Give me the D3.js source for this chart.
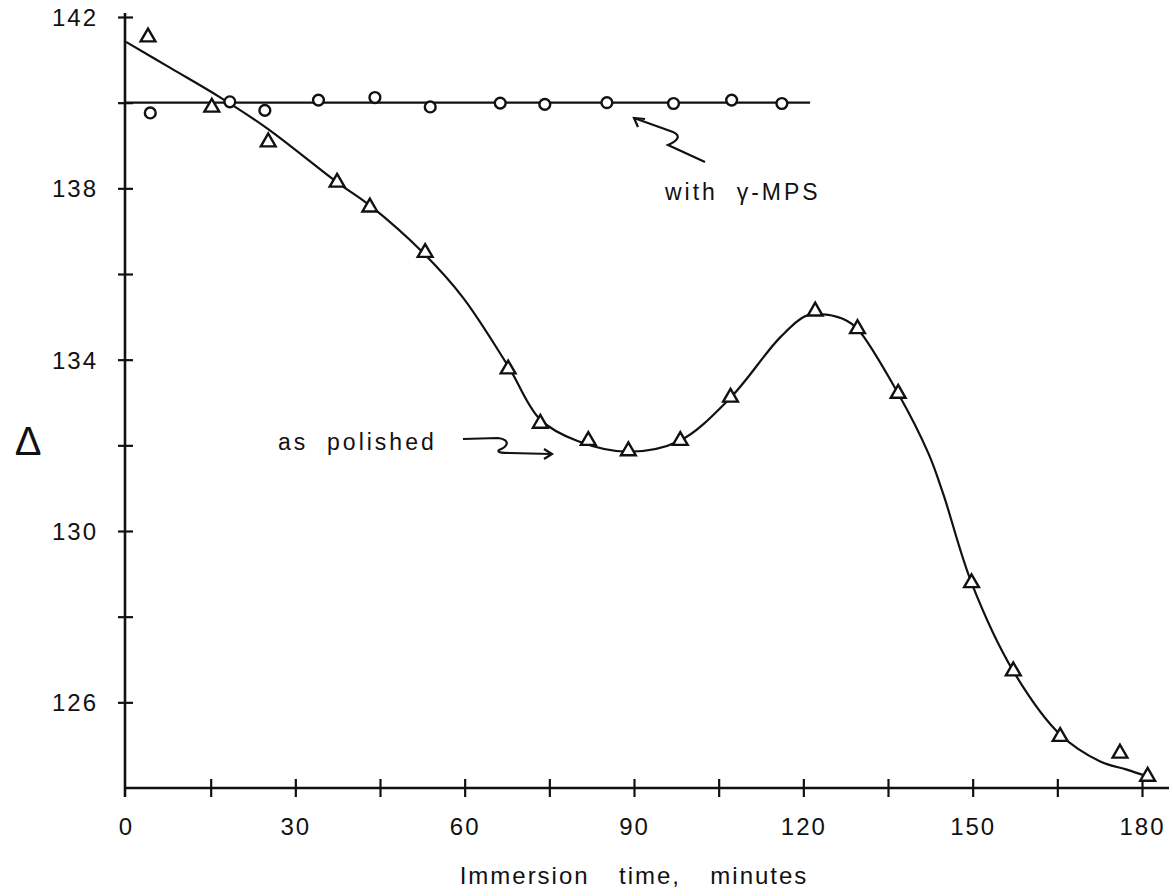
<!DOCTYPE html>
<html>
<head>
<meta charset="utf-8">
<script src="https://cdn.jsdelivr.net/npm/d3@7/dist/d3.min.js"></script>
<style>
  html, body { margin: 0; padding: 0; background: #fff; }
  svg { display: block; }
  text { font-family: "Liberation Sans", Arial, Helvetica, sans-serif; fill: #111; }
</style>
</head>
<body>
<svg id="chart" width="1173" height="896"></svg>
<script>
// ---- data ----
// "as polished" measured points (triangles)
const polishedTime  = [3.9, 15.2, 25.2, 37.4, 43.2, 53.0, 67.7, 73.4, 81.9, 89.0, 98.2, 107.1, 122.1, 129.6, 136.8, 149.8, 157.2, 165.5, 176.1, 181.0];
const polishedDelta = [141.53, 139.89, 139.08, 138.14, 137.56, 136.50, 133.78, 132.51, 132.11, 131.87, 132.11, 133.12, 135.13, 134.72, 133.21, 128.79, 126.73, 125.20, 124.81, 124.27];
// hand-drawn smooth curve through the "as polished" data
const polishedCurveTime  = [0, 8, 16.6, 25, 37.4, 43.2, 52.6, 59.7, 67.7, 73.4, 80, 89, 98, 107, 115.9, 120.6, 124.1, 127.7, 129.6, 136.8, 142.2, 144.8, 149.8, 157.2, 165.5, 172.6, 177.3, 181];
const polishedCurveDelta = [141.42, 140.8, 140.13, 139.4, 138.14, 137.6, 136.5, 135.45, 133.85, 132.6, 132.1, 131.85, 132.1, 133.1, 134.52, 135.03, 135.05, 134.91, 134.72, 133.21, 131.8, 130.86, 128.79, 126.73, 125.25, 124.62, 124.43, 124.27];
// "with γ-MPS" measured points (circles)
const mpsTime  = [4.3, 18.4, 24.6, 34.1, 44.1, 53.9, 66.3, 74.2, 85.2, 97.0, 107.3, 116.2];
const mpsDelta = [139.76, 140.02, 139.82, 140.06, 140.12, 139.90, 139.99, 139.96, 140.0, 139.98, 140.06, 139.98];
const mpsLineTime  = [0, 121.2];
const mpsLineDelta = [140, 140];
// axes
const xTickValues  = [0, 15, 30, 45, 60, 75, 90, 105, 120, 135, 150, 165, 180];
const xTickLabels  = [0, 30, 60, 90, 120, 150, 180];
const yTickValues  = [126, 128, 130, 132, 134, 136, 138, 140, 142];
const yTickLabels  = [126, 130, 134, 138, 142];
const xTitle = "Immersion  time,  minutes";
const yTitle = "Δ";
const labelMPS = "with  γ-MPS";
const labelPolished = "as  polished";

// ---- scales ----
const x = d3.scaleLinear().domain([0, 180]).range([126, 1142]);
const y = d3.scaleLinear().domain([124, 142]).range([788, 17]);

const svg = d3.select("#chart");
const ink = "#111";

// axis lines
svg.append("line").attr("x1", 125).attr("x2", 125).attr("y1", 13).attr("y2", 797)
  .attr("stroke", ink).attr("stroke-width", 2.6);
svg.append("line").attr("x1", 125).attr("x2", 1169).attr("y1", y(124)).attr("y2", y(124))
  .attr("stroke", ink).attr("stroke-width", 2.4);

// x axis ticks
const gx = svg.append("g").attr("transform", `translate(0,${y(124)})`)
  .call(d3.axisBottom(x).tickValues(xTickValues).tickSize(9).tickSizeOuter(0)
    .tickFormat(d => xTickLabels.includes(d) ? String(d) : ""));
gx.select(".domain").remove();
gx.selectAll(".tick line").attr("y1", -9).attr("y2", 9).attr("stroke", ink).attr("stroke-width", 2.2)
  .filter(d => d === 0).remove();
gx.selectAll(".tick text").attr("y", 47).attr("dy", null)
  .style("font-size", "24px").style("letter-spacing", "2px").attr("fill", ink);

// y axis ticks
const gy = svg.append("g").attr("transform", "translate(125,0)")
  .call(d3.axisLeft(y).tickValues(yTickValues).tickSize(7).tickSizeOuter(0)
    .tickFormat(d => yTickLabels.includes(d) ? String(d) : ""));
gy.select(".domain").remove();
gy.selectAll(".tick line").attr("x1", 8).attr("x2", -7).attr("stroke", ink).attr("stroke-width", 2.2);
gy.selectAll(".tick text").attr("x", -27).attr("dy", "0.36em")
  .style("font-size", "24px").style("letter-spacing", "2px").attr("fill", ink);

// titles
svg.append("text").attr("x", x(90)).attr("y", 884).attr("text-anchor", "middle")
  .style("font-size", "24px").style("letter-spacing", "2px").style("word-spacing", "6px")
  .style("white-space", "pre").text(xTitle);
svg.append("text").attr("x", 28).attr("y", 455).attr("text-anchor", "middle")
  .style("font-size", "40px").style("font-weight", "300").text(yTitle);

// lines
const line = d3.line().x(d => x(d[0])).y(d => y(d[1]));
svg.append("path")
  .datum(mpsLineTime.map((t, i) => [t, mpsLineDelta[i]]))
  .attr("d", line).attr("fill", "none").attr("stroke", ink).attr("stroke-width", 2.2);
svg.append("path")
  .datum(polishedCurveTime.map((t, i) => [t, polishedCurveDelta[i]]))
  .attr("d", line.curve(d3.curveCatmullRom.alpha(0.5))).attr("fill", "none")
  .attr("stroke", ink).attr("stroke-width", 2.2);

// markers
svg.append("g").selectAll("circle")
  .data(mpsTime.map((t, i) => [t, mpsDelta[i]]))
  .join("circle").attr("cx", d => x(d[0])).attr("cy", d => y(d[1])).attr("r", 5.4)
  .attr("fill", "#fff").attr("stroke", ink).attr("stroke-width", 2.4);
const tri = d3.symbol().type(d3.symbolTriangle).size(95);
svg.append("g").selectAll("path")
  .data(polishedTime.map((t, i) => [t, polishedDelta[i]]))
  .join("path").attr("d", tri)
  .attr("transform", d => `translate(${x(d[0])},${y(d[1])})`)
  .attr("fill", "#fff").attr("stroke", ink).attr("stroke-width", 2.4).attr("stroke-linejoin", "miter");

// annotations
svg.append("text").attr("x", 665).attr("y", 200)
  .style("font-size", "23px").style("letter-spacing", "3px").style("white-space", "pre").text(labelMPS);
svg.append("path").attr("d", "M705,162 L668,145 C677,141 682,136 673,132 L634,118")
  .attr("fill", "none").attr("stroke", ink).attr("stroke-width", 2.2);
svg.append("path").attr("d", "M638,127 L634,118 L645,119")
  .attr("fill", "none").attr("stroke", ink).attr("stroke-width", 2.2);

svg.append("text").attr("x", 278).attr("y", 450)
  .style("font-size", "23px").style("letter-spacing", "3px").style("white-space", "pre").text(labelPolished);
svg.append("path").attr("d", "M463,439 L498,438 C512,440 507,447 499,450 C496,453 505,453 510,453 L551,454")
  .attr("fill", "none").attr("stroke", ink).attr("stroke-width", 2.2);
svg.append("path").attr("d", "M544,449 L552,454 L544,459")
  .attr("fill", "none").attr("stroke", ink).attr("stroke-width", 2.2);
</script>
</body>
</html>
